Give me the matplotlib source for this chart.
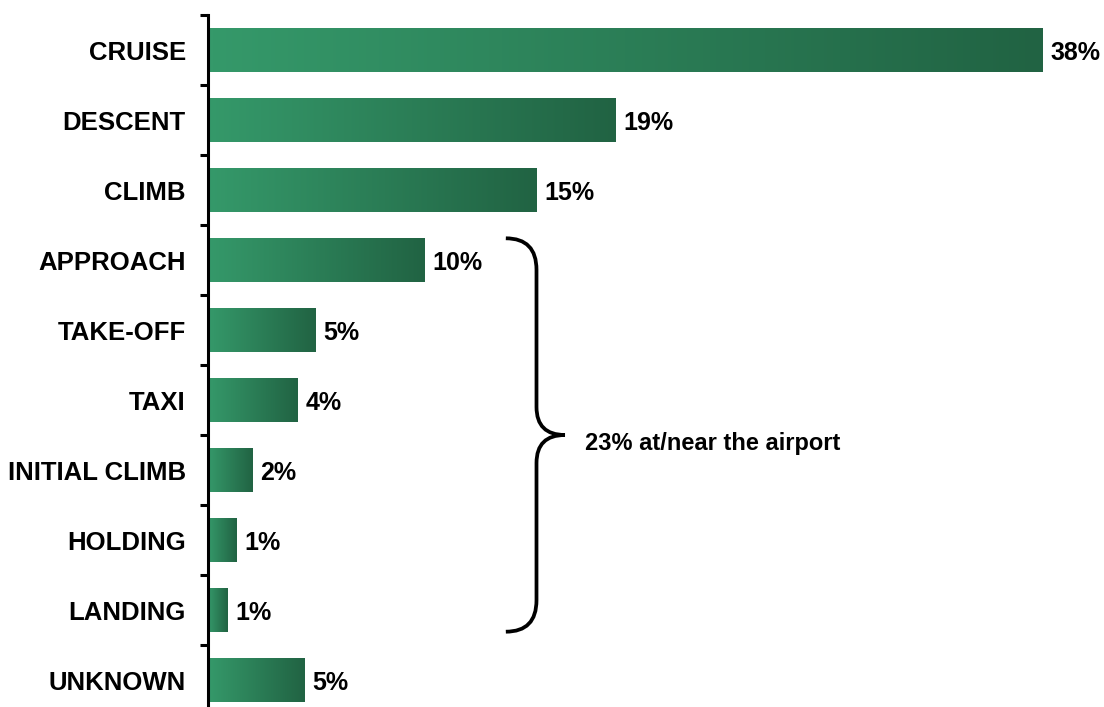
"""Flight phase share of accidents, horizontal gradient bars."""

import matplotlib

matplotlib.use("Agg")

import matplotlib.pyplot as plt
import numpy as np
from matplotlib.colors import LinearSegmentedColormap
from matplotlib.patches import PathPatch
from matplotlib.path import Path

phases = ["CRUISE", "DESCENT", "CLIMB", "APPROACH", "TAKE-OFF", "TAXI",
          "INITIAL CLIMB", "HOLDING", "LANDING", "UNKNOWN"]
shares = [38.1, 18.6, 15.0, 9.9, 4.9, 4.1, 2.05, 1.3, 0.9, 4.4]
share_labels = ["38%", "19%", "15%", "10%", "5%", "4%", "2%", "1%", "1%", "5%"]
airport_phases = ["APPROACH", "LANDING"]
airport_note = "23% at/near the airport"

plt.rcParams["font.family"] = ["Liberation Sans", "DejaVu Sans"]
plt.rcParams["font.weight"] = "bold"

green_ramp = LinearSegmentedColormap.from_list("ramp", ["#35996a", "#216343"])

figure = plt.figure(figsize=(11.04, 7.07), dpi=100)
axes = figure.add_axes([208 / 1104, -8 / 707, 876 / 1104, 700 / 707])

bar_height = 0.62
positions = np.arange(len(phases))
bars = axes.barh(positions, shares, height=bar_height, color="none", linewidth=0)
gradient = np.linspace(0, 1, 256).reshape(1, -1)
for rect in bars:
    x0, y0 = rect.get_x(), rect.get_y()
    image = axes.imshow(gradient, cmap=green_ramp, aspect="auto",
                        extent=[x0, x0 + rect.get_width(), y0 + rect.get_height(), y0],
                        interpolation="bilinear", zorder=2)
    image.set_clip_path(rect)

for pos, value, label in zip(positions, shares, share_labels):
    axes.text(value + 0.35, pos, label, va="center_baseline", ha="left",
              fontsize=18, fontweight="bold")

axes.set_xlim(0, 40)
axes.set_ylim(len(phases) - 0.5, -0.5)

axes.set_yticks(positions)
axes.set_yticklabels(phases, fontsize=18.5, fontweight="bold")
axes.set_yticks(np.arange(len(phases) + 1) - 0.5, minor=True)
axes.tick_params(axis="y", which="major", length=0, pad=16)
axes.tick_params(axis="y", which="minor", length=6, width=2.2, direction="out")
axes.set_xticks([])
for side in ("top", "right", "bottom"):
    axes.spines[side].set_visible(False)
axes.spines["left"].set_linewidth(2.2)

# curly brace grouping the airport phases
first = phases.index(airport_phases[0])
last = phases.index(airport_phases[1])
y_top = first - bar_height / 2
y_bot = last + bar_height / 2
y_mid = (y_top + y_bot) / 2
x_end, x_line, x_tip = 13.6, 15.0, 16.3
r_end, r_tip = 0.45, 0.4
verts = [
    (x_end, y_top), (x_line, y_top), (x_line, y_top + r_end),
    (x_line, y_mid - r_tip),
    (x_line, y_mid), (x_tip, y_mid),
    (x_line, y_mid), (x_line, y_mid + r_tip),
    (x_line, y_bot - r_end),
    (x_line, y_bot), (x_end, y_bot),
]
codes = [Path.MOVETO, Path.CURVE3, Path.CURVE3, Path.LINETO,
         Path.CURVE3, Path.CURVE3, Path.CURVE3, Path.CURVE3,
         Path.LINETO, Path.CURVE3, Path.CURVE3]
axes.add_patch(PathPatch(Path(verts, codes), facecolor="none",
                         edgecolor="black", linewidth=2.7, capstyle="butt"))
axes.text(x_tip + 0.9, y_mid + 0.08, airport_note, va="center_baseline", ha="left",
          fontsize=17, fontweight="bold")

figure.savefig("out.png", dpi=100)
